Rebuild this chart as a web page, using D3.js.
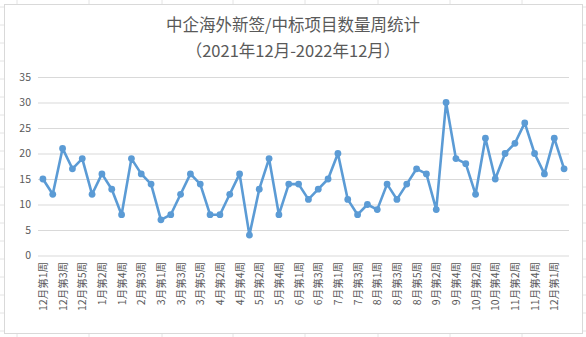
<!DOCTYPE html>
<html>
<head>
<meta charset="utf-8">
<script src="https://cdn.jsdelivr.net/npm/d3@7"></script>
<style>
  body { margin: 0; background: #fff; }
  text { font-family: "Noto Sans CJK SC", "Noto Sans", sans-serif; fill: #595959; }
</style>
</head>
<body>
<script>
// weekly counts, Dec 2021 - Dec 2022
var weeks = [
  "12月第1周","12月第2周","12月第3周","12月第4周","12月第5周",
  "1月第1周","1月第2周","1月第3周","1月第4周",
  "2月第2周","2月第3周","2月第4周",
  "3月第1周","3月第2周","3月第3周","3月第4周","3月第5周",
  "4月第1周","4月第2周","4月第3周","4月第4周",
  "5月第1周","5月第2周","5月第3周","5月第4周","5月第5周",
  "6月第1周","6月第2周","6月第3周","6月第4周",
  "7月第1周","7月第2周","7月第3周","7月第4周",
  "8月第1周","8月第2周","8月第3周","8月第4周","8月第5周",
  "9月第1周","9月第2周","9月第3周","9月第4周",
  "10月第1周","10月第2周","10月第3周","10月第4周",
  "11月第1周","11月第2周","11月第3周","11月第4周","11月第5周",
  "12月第1周","12月第2周"
];
var counts = [15,12,21,17,19,12,16,13,8,19,16,14,7,8,12,16,14,8,8,12,16,4,13,19,8,
  14,14,11,13,15,20,11,8,10,9,14,11,14,17,16,9,30,19,18,12,23,15,20,22,26,20,16,23,17];
var yTicks = [0,5,10,15,20,25,30,35];

var width = 586, height = 337;
var svg = d3.select("body").append("svg")
  .attr("width", width)
  .attr("height", height);

// faint sheet cells behind the chart
[17,89,162,233,305,378,450,522].forEach(function(x){
  svg.append("line").attr("x1", x).attr("x2", x).attr("y1", 0).attr("y2", height)
    .attr("stroke", "#e4e4e4");
});
[7,25,43,61,79,97,115,133,151,169,187,205,223,241,259,277,295,313,331].forEach(function(y){
  svg.append("line").attr("x1", 0).attr("x2", width).attr("y1", y).attr("y2", y)
    .attr("stroke", "#e4e4e4");
});

// chart frame
svg.append("rect")
  .attr("x", 4.5).attr("y", 4.5)
  .attr("width", 578).attr("height", 329)
  .attr("fill", "#fff")
  .attr("stroke", "#d9d9d9");

svg.append("text")
  .attr("x", 293).attr("y", 31)
  .attr("text-anchor", "middle")
  .style("font-size", "16.5px")
  .text("中企海外新签/中标项目数量周统计");
svg.append("text")
  .attr("x", 293).attr("y", 57)
  .attr("text-anchor", "middle")
  .style("font-size", "16.5px")
  .text("（2021年12月-2022年12月）");

var x = d3.scaleBand()
  .domain(d3.range(weeks.length))
  .range([38, 569]);

var y = d3.scaleLinear()
  .domain([0, 35])
  .range([255.5, 77]);

// gridlines + y labels
var yAxis = d3.axisLeft(y)
  .tickValues(yTicks)
  .tickSize(-(569 - 38))
  .tickPadding(10);

var gy = svg.append("g")
  .attr("transform", "translate(38,0)")
  .call(yAxis);
gy.select(".domain").remove();
gy.selectAll(".tick line").attr("stroke", "#d9d9d9");
gy.selectAll(".tick text").style("font-size", "10.5px").attr("x", -7);

// x labels, every other week
var gx = svg.append("g");
gx.selectAll("text")
  .data(weeks.map(function(w, i){ return {w: w, i: i}; }).filter(function(d){ return d.i % 2 == 0; }))
  .enter().append("text")
  .attr("transform", function(d){
    return "translate(" + (x(d.i) + x.bandwidth() / 2 + 4) + ",262) rotate(-90)";
  })
  .attr("text-anchor", "end")
  .style("font-size", "10.5px")
  .text(function(d){ return d.w; });

var line = d3.line()
  .x(function(d, i){ return x(i) + x.bandwidth() / 2; })
  .y(function(d){ return y(d); });

svg.append("path")
  .datum(counts)
  .attr("d", line)
  .attr("fill", "none")
  .attr("stroke", "#5b9bd5")
  .attr("stroke-width", 2.6)
  .attr("stroke-linejoin", "round");

svg.selectAll(".dot")
  .data(counts)
  .enter().append("circle")
  .attr("class", "dot")
  .attr("cx", function(d, i){ return x(i) + x.bandwidth() / 2; })
  .attr("cy", function(d){ return y(d); })
  .attr("r", 3.4)
  .attr("fill", "#5b9bd5");
</script>
</body>
</html>
